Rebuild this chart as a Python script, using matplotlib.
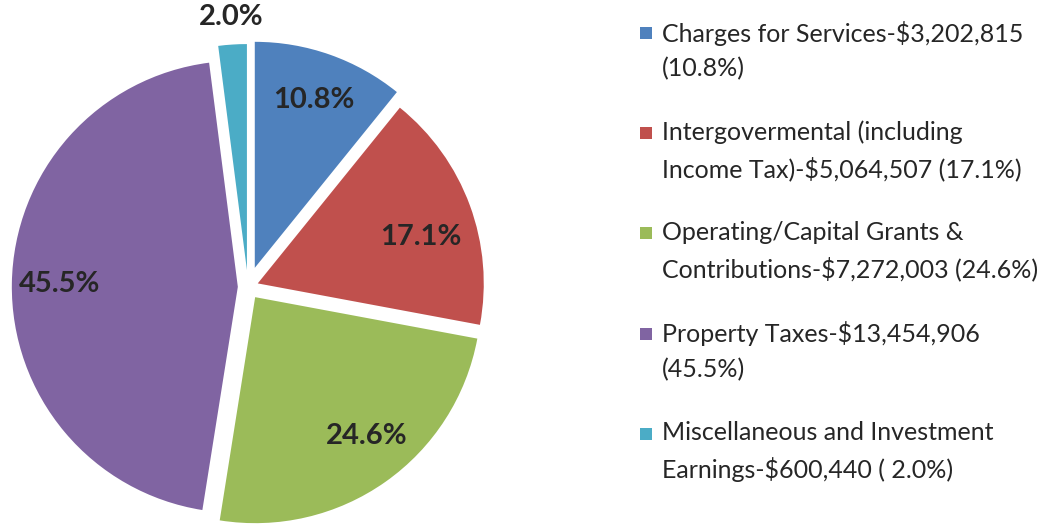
import matplotlib.pyplot as plt
from matplotlib.patches import Rectangle
import numpy as np

plt.rcParams['font.family'] = ['Lato', 'DejaVu Sans']

# data
categories = ["Charges for Services", "Intergovermental (including Income Tax)",
              "Operating/Capital Grants & Contributions", "Property Taxes",
              "Miscellaneous and Investment Earnings"]
amounts = [3202815, 5064507, 7272003, 13454906, 600440]
legend_labels = ["Charges for Services-$3,202,815\n(10.8%)",
                 "Intergovermental (including\nIncome Tax)-$5,064,507 (17.1%)",
                 "Operating/Capital Grants &\nContributions-$7,272,003 (24.6%)",
                 "Property Taxes-$13,454,906\n(45.5%)",
                 "Miscellaneous and Investment\nEarnings-$600,440 ( 2.0%)"]
colors = ["#4F81BD", "#C0504D", "#9BBB59", "#8064A2", "#4BACC6"]
explode = [0.09, 0.046, 0.055, 0.045, 0.075]
# label placement (distance from slice centre, angle nudge in degrees)
label_dist = [0.79, 0.75, 0.79, 0.79, 1.12]
label_shift = [0, -4.5, 3.5, 0, 0]

W, H = 1051, 526
fig = plt.figure(figsize=(W / 100, H / 100), dpi=100)

# pie axes (center ~ (248, 287) px, radius ~ 226 px)
R = 226
half = 1.2 * R
cx, cy = 248, H - 287
ax = fig.add_axes([(cx - half) / W, (cy - half) / H, 2 * half / W, 2 * half / H])

wedges, texts, autotexts = ax.pie(amounts, colors=colors, startangle=90, counterclock=False,
                                  explode=explode, autopct='%.1f%%', pctdistance=0.78,
                                  radius=1.0, frame=True,
                                  wedgeprops=dict(linewidth=0),
                                  textprops=dict(fontsize=21, fontweight='bold', color='#262626'))
ax.set_xlim(-1.2, 1.2)
ax.set_ylim(-1.2, 1.2)
ax.set_aspect('equal')
ax.axis('off')

for w, t, d, s in zip(wedges, autotexts, label_dist, label_shift):
    mid = np.deg2rad((w.theta1 + w.theta2) / 2 + s)
    t.set_position((w.center[0] + d * np.cos(mid), w.center[1] + d * np.sin(mid)))

# legend drawn by hand so the marker sits on the first line
line_gap = 35
for i, lab in enumerate(legend_labels):
    yc = 50.5 + i * 100.2
    fig.text(662 / W, 1 - yc / H, lab, fontsize=18, color='#262626',
             va='center', ha='left', linespacing=1.6)
    y1 = yc - line_gap / 2
    fig.patches.append(Rectangle((640 / W, 1 - (y1 + 6) / H), 12 / W, 12 / H,
                                 transform=fig.transFigure, facecolor=colors[i],
                                 edgecolor='none'))

fig.savefig("out.png", dpi=100)
